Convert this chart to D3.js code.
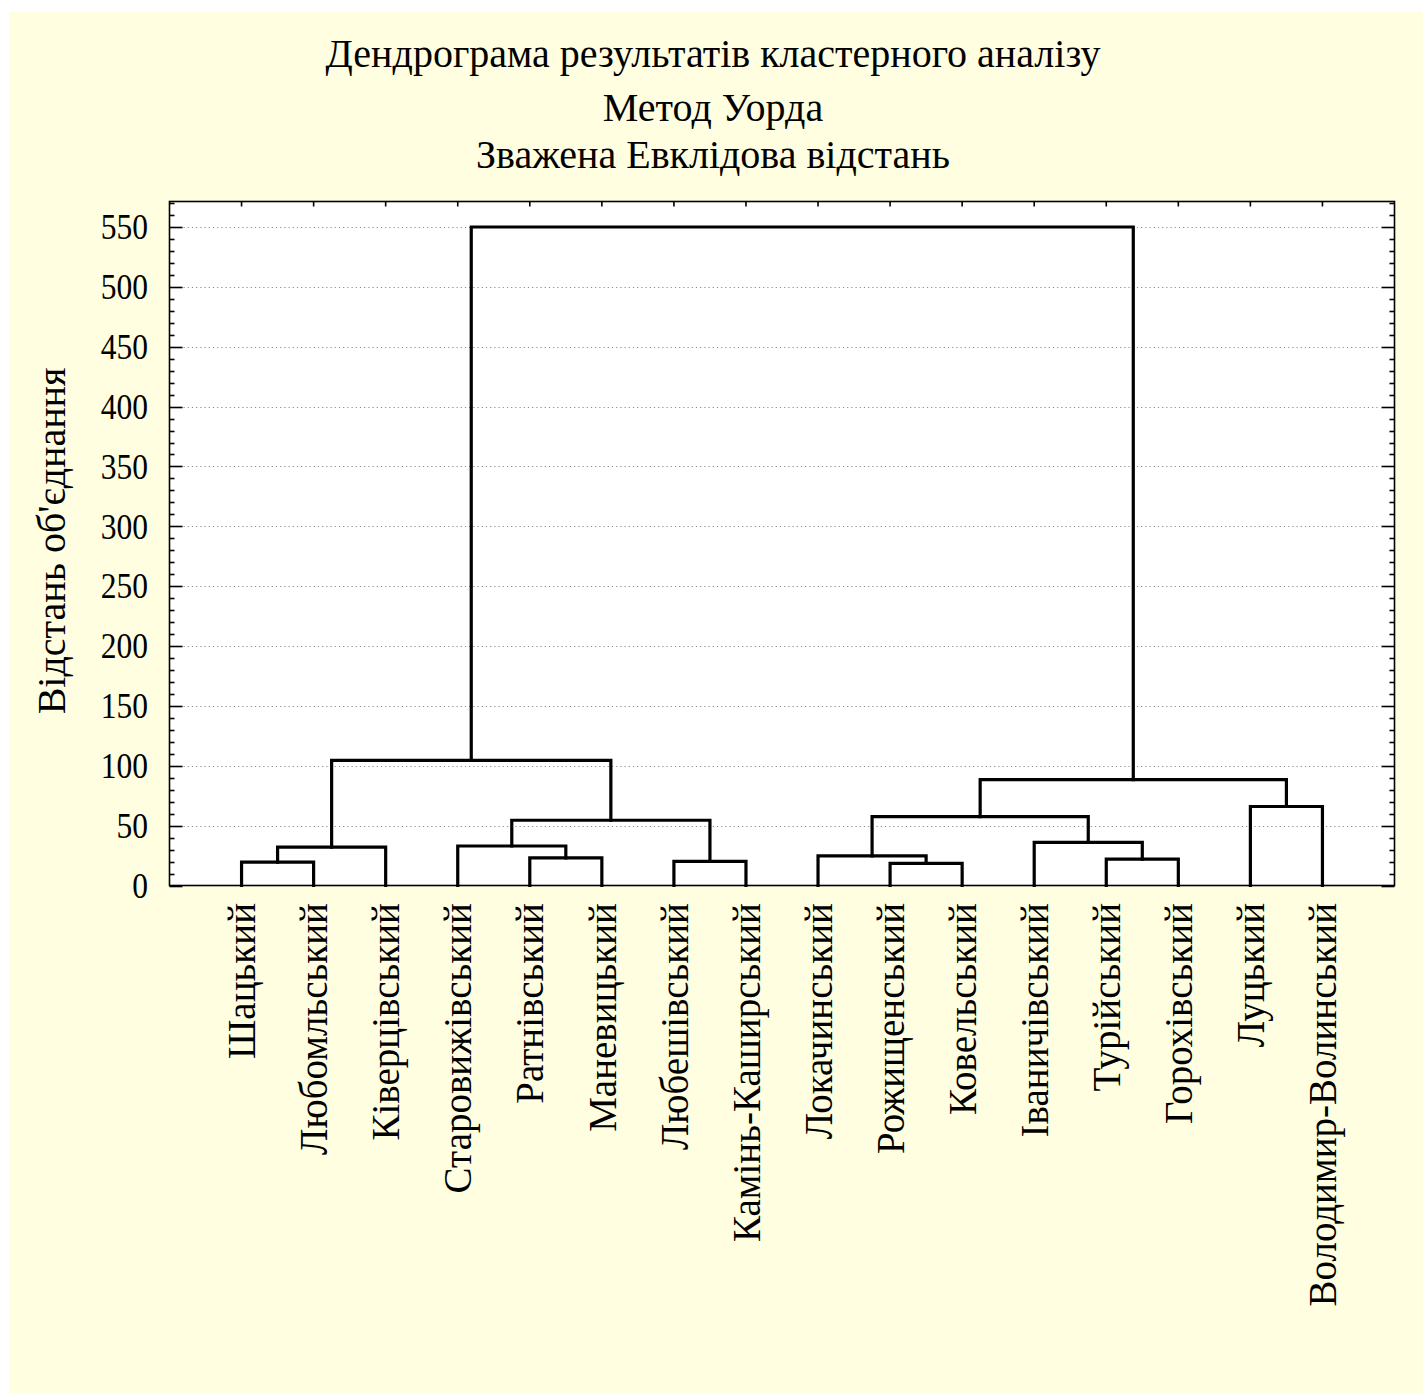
<!DOCTYPE html>
<html>
<head>
<meta charset="utf-8">
<script src="https://cdn.jsdelivr.net/npm/d3@7"></script>
<style>
  html, body { margin: 0; padding: 0; background: #ffffff; }
  svg { display: block; }
  text { font-family: "Liberation Serif", "Times New Roman", serif; fill: #000; }
</style>
</head>
<body>
<svg id="chart" width="1423" height="1393"></svg>
<script>
// Districts in dendrogram leaf order
const districts = [
  "Шацький", "Любомльський", "Ківерцівський", "Старовижівський",
  "Ратнівський", "Маневицький", "Любешівський", "Камінь-Каширський",
  "Локачинський", "Рожищенський", "Ковельський", "Іваничівський",
  "Турійський", "Горохівський", "Луцький", "Володимир-Волинський"
];

// Merge steps: indices < 16 are districts, 16+k refers to merge k
const mergeLeft  = [0, 16, 4, 3, 6, 19, 17, 9, 8, 12, 11, 24, 14, 27, 22];
const mergeRight = [1, 2, 5, 18, 7, 20, 21, 10, 23, 13, 25, 26, 15, 28, 29];
const mergeHeight = [19.5, 32, 23, 33, 20.2, 54.5, 104.5, 18.5, 24.7, 22, 36, 57.6, 66, 88.5, 550];

const yTicks = [0, 50, 100, 150, 200, 250, 300, 350, 400, 450, 500, 550];

const titleLines = [
  "Дендрограма результатів кластерного аналізу",
  "Метод Уорда",
  "Зважена Евклідова відстань"
];
const yTitle = "Відстань об'єднання";

const svg = d3.select("#chart");
const W = 1423, H = 1393;

// Background panel
svg.append("rect").attr("x", 9).attr("y", 12).attr("width", W - 9).attr("height", H - 12)
  .attr("fill", "#fffee0");

const plot = { left: 169.5, top: 201.5, right: 1394.5, bottom: 885.5 };

const x = d3.scalePoint()
  .domain(d3.range(districts.length))
  .range([plot.left, plot.right])
  .padding(1);

const y = d3.scaleLinear()
  .domain([0, 571.3])
  .range([plot.bottom, plot.top]);

// Plot area
svg.append("rect")
  .attr("x", plot.left).attr("y", plot.top)
  .attr("width", plot.right - plot.left).attr("height", plot.bottom - plot.top)
  .attr("fill", "#ffffff");

// Dotted grid lines at major ticks
svg.append("g").selectAll("line")
  .data(yTicks.filter(d => d > 0))
  .join("line")
  .attr("x1", plot.left + 14).attr("x2", plot.right - 14)
  .attr("y1", d => Math.round(y(d)) + 0.5).attr("y2", d => Math.round(y(d)) + 0.5)
  .attr("stroke", "#8c8c8c").attr("stroke-width", 1.2)
  .attr("stroke-dasharray", "1.2,3");

// Node positions from the merge table
const nodeX = districts.map((_, i) => x(i));
const nodeY = districts.map(() => 0);
mergeLeft.forEach((l, k) => {
  const r = mergeRight[k];
  nodeX.push((nodeX[l] + nodeX[r]) / 2);
  nodeY.push(mergeHeight[k]);
});

// Dendrogram links
const linkPath = k => {
  const l = mergeLeft[k], r = mergeRight[k], h = y(mergeHeight[k]);
  return `M${nodeX[l]},${y(nodeY[l])}V${h}H${nodeX[r]}V${y(nodeY[r])}`;
};
svg.append("g").selectAll("path")
  .data(d3.range(mergeLeft.length))
  .join("path")
  .attr("d", linkPath)
  .attr("fill", "none")
  .attr("stroke", "#000")
  .attr("stroke-width", 3.2)
  .attr("stroke-linejoin", "miter")
  .attr("stroke-linecap", "square");

// Frame
svg.append("rect")
  .attr("x", plot.left).attr("y", plot.top)
  .attr("width", plot.right - plot.left).attr("height", plot.bottom - plot.top)
  .attr("fill", "none").attr("stroke", "#000").attr("stroke-width", 1.6);

// Y axes (inward ticks, minor every 10)
const minor = d3.range(0, 571, 10);
const tickG = svg.append("g").attr("stroke", "#000").attr("stroke-width", 1.6);
minor.forEach(v => {
  const len = v % 50 === 0 ? 13 : 5;
  const yy = Math.round(y(v)) + 0.5;
  tickG.append("line").attr("x1", plot.left).attr("x2", plot.left + len).attr("y1", yy).attr("y2", yy);
  tickG.append("line").attr("x1", plot.right).attr("x2", plot.right - len).attr("y1", yy).attr("y2", yy);
});
// Top ticks at leaf positions
districts.forEach((_, i) => {
  tickG.append("line").attr("x1", x(i)).attr("x2", x(i))
    .attr("y1", plot.top).attr("y2", plot.top + 5);
});

// Y tick labels
svg.append("g").selectAll("text")
  .data(yTicks)
  .join("text")
  .attr("transform", d => `translate(148,${y(d)}) scale(0.9,1)`)
  .attr("dy", "0.35em")
  .attr("text-anchor", "end")
  .attr("font-size", 35)
  .text(d => d);

// Leaf labels
svg.append("g").selectAll("text")
  .data(districts)
  .join("text")
  .attr("transform", (d, i) => `translate(${x(i)},903) rotate(-90)`)
  .attr("dy", "0.35em")
  .attr("text-anchor", "end")
  .attr("font-size", 39)
  .text(d => d);

// Axis title
svg.append("text")
  .attr("transform", "translate(51,541) rotate(-90)")
  .attr("dy", "0.35em")
  .attr("text-anchor", "middle")
  .attr("font-size", 40)
  .text(yTitle);

// Titles
const titleBase = [67, 121, 168];
svg.append("g").selectAll("text")
  .data(titleLines)
  .join("text")
  .attr("x", 713)
  .attr("y", (d, i) => titleBase[i])
  .attr("text-anchor", "middle")
  .attr("font-size", 40)
  .text(d => d);
</script>
</body>
</html>
